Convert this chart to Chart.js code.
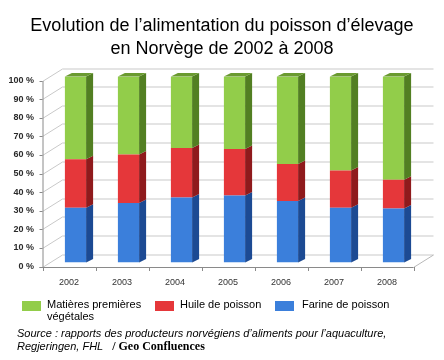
<!DOCTYPE html>
<html>
<head>
<meta charset="utf-8">
<script src="https://cdn.jsdelivr.net/npm/chart.js@4.4.1/dist/chart.umd.min.js"></script>
<style>
  html, body { margin: 0; padding: 0; background: #fff; }
  #wrap { position: relative; width: 444px; height: 360px; overflow: hidden; font-family: "Liberation Sans", Arial, sans-serif; }
  #c { position: absolute; left: 0; top: 0; }
  #title { position: absolute; left: 0; top: 14px; width: 444px; text-align: center; font-size: 18px; line-height: 23px; color: #000; }
  .lg { position: absolute; font-size: 11px; line-height: 12px; color: #000; }
  .box { position: absolute; width: 19px; height: 10px; }
  #src { position: absolute; left: 17px; top: 327px; font-size: 11px; line-height: 13px; font-style: italic; color: #000; white-space: nowrap; }
  #src b { font-family: "Liberation Serif", "Times New Roman", serif; font-style: normal; font-size: 12px; }
</style>
</head>
<body>
<div id="wrap">
  <canvas id="c" width="444" height="360"></canvas>
  <div id="title">Evolution de l’alimentation du poisson d’élevage<br>en Norvège de 2002 à 2008</div>
  <div class="box" style="left:22px;top:301px;background:#92cd4a"></div>
  <div class="lg" style="left:47px;top:298px">Matières premières<br>végétales</div>
  <div class="box" style="left:155px;top:301px;background:#e5373a"></div>
  <div class="lg" style="left:180px;top:298px">Huile de poisson</div>
  <div class="box" style="left:275px;top:301px;background:#3b7fdb"></div>
  <div class="lg" style="left:302px;top:298px">Farine de poisson</div>
  <div id="src">Source : rapports des producteurs norvégiens d’aliments pour l’aquaculture,<br>Regjeringen, FHL &nbsp; <b>/ Geo Confluences</b></div>
</div>
<script>
const years = ['2002', '2003', '2004', '2005', '2006', '2007', '2008'];
const farinePoisson = [29.5, 32, 35, 36, 33, 29.5, 29];
const huilePoisson = [26, 26, 26.5, 25, 20, 20, 15.5];
const matieresVegetales = [44.5, 42, 38.5, 39, 47, 50.5, 55.5];
const yTicks = [0, 10, 20, 30, 40, 50, 60, 70, 80, 90, 100];

const sideColors = ['#1c4a93', '#8f1a1c', '#527f22'];
const topColor = '#6a9a30';
const DX = 7, DY = 3.5;           // bar depth
const FRONT_DX = -6.5, FRONT_DY = 4;   // front plane offset from bar front
const BACK_DX = 13.5, BACK_DY = -8.5;  // back wall offset from bar front

const threeD = {
  id: 'threeD',
  beforeDatasetsDraw(chart) {
    const ctx = chart.ctx, a = chart.chartArea, ys = chart.scales.y;
    ctx.save();
    ctx.lineWidth = 1;
    yTicks.forEach(v => {
      const yb = Math.round(ys.getPixelForValue(v));
      ctx.strokeStyle = '#c9c9c9';
      ctx.beginPath();
      ctx.moveTo(a.left + FRONT_DX, yb + FRONT_DY + 0.5);
      ctx.lineTo(a.left + BACK_DX, yb + BACK_DY + 0.5);
      ctx.lineTo(a.right + BACK_DX, yb + BACK_DY + 0.5);
      ctx.stroke();
    });
    const y0 = Math.round(ys.getPixelForValue(0));
    ctx.strokeStyle = '#b8b8b8';
    ctx.beginPath();
    ctx.moveTo(a.right + FRONT_DX, y0 + FRONT_DY + 0.5);
    ctx.lineTo(a.right + BACK_DX, y0 + BACK_DY + 0.5);
    ctx.stroke();
    ctx.strokeStyle = '#8a8a8a';
    const yTop = Math.round(ys.getPixelForValue(100));
    ctx.beginPath();
    ctx.moveTo(a.left + FRONT_DX + 0.5, yTop + FRONT_DY);
    ctx.lineTo(a.left + FRONT_DX + 0.5, y0 + FRONT_DY + 1);
    ctx.moveTo(a.left + FRONT_DX - 3, y0 + FRONT_DY + 0.5);
    ctx.lineTo(a.right + FRONT_DX, y0 + FRONT_DY + 0.5);
    yTicks.forEach(v => {
      const yb = Math.round(ys.getPixelForValue(v));
      ctx.moveTo(a.left + FRONT_DX - 3, yb + FRONT_DY + 0.5);
      ctx.lineTo(a.left + FRONT_DX, yb + FRONT_DY + 0.5);
    });
    const step = (a.right - a.left) / years.length;
    for (let i = 0; i <= years.length; i++) {
      const x = Math.round(a.left + FRONT_DX + i * step) + 0.5;
      ctx.moveTo(x, y0 + FRONT_DY);
      ctx.lineTo(x, y0 + FRONT_DY + 4);
    }
    ctx.stroke();
    ctx.restore();
  },
  afterDatasetsDraw(chart) {
    const ctx = chart.ctx;
    ctx.save();
    const n = chart.data.datasets.length;
    chart.data.datasets.forEach((ds, di) => {
      const meta = chart.getDatasetMeta(di);
      meta.data.forEach(el => {
        const p = el.getProps(['x', 'y', 'base', 'width'], true);
        const l = p.x - p.width / 2, r = p.x + p.width / 2;
        const top = Math.min(p.y, p.base), bot = Math.max(p.y, p.base);
        ctx.fillStyle = sideColors[di];
        ctx.beginPath();
        ctx.moveTo(r, top);
        ctx.lineTo(r + DX, top - DY);
        ctx.lineTo(r + DX, bot - DY);
        ctx.lineTo(r, bot);
        ctx.closePath();
        ctx.fill();
        if (di === n - 1) {
          ctx.fillStyle = topColor;
          ctx.beginPath();
          ctx.moveTo(l, top);
          ctx.lineTo(l + DX, top - DY);
          ctx.lineTo(r + DX, top - DY);
          ctx.lineTo(r, top);
          ctx.closePath();
          ctx.fill();
        }
      });
    });
    ctx.restore();
  }
};

new Chart(document.getElementById('c'), {
  type: 'bar',
  data: {
    labels: years,
    datasets: [
      { label: 'Farine de poisson', data: farinePoisson, backgroundColor: '#3b7fdb' },
      { label: 'Huile de poisson', data: huilePoisson, backgroundColor: '#e5373a' },
      { label: 'Matières premières végétales', data: matieresVegetales, backgroundColor: '#92cd4a' }
    ]
  },
  options: {
    responsive: false,
    animation: false,
    events: [],
    layout: { padding: { top: 76.5, right: 24, bottom: 67.5, left: 0 } },
    plugins: { legend: { display: false }, title: { display: false }, tooltip: { enabled: false } },
    datasets: { bar: { categoryPercentage: 1, barPercentage: 0.4, borderWidth: 0 } },
    scales: {
      x: {
        stacked: true,
        grid: { display: false, drawTicks: false },
        border: { display: false },
        ticks: { font: { family: 'Liberation Sans', size: 9 }, color: '#333', padding: 15, labelOffset: FRONT_DX, maxRotation: 0 },
        afterFit(s) { s.height = 30; }
      },
      y: {
        stacked: true,
        min: 0, max: 100,
        afterBuildTicks(s) { s.ticks = yTicks.map(v => ({ value: v })); },
        grid: { display: false, drawTicks: false },
        border: { display: false },
        ticks: { font: { family: 'Liberation Sans', size: 9, weight: 'bold' }, color: '#2a2a2a', padding: 15, labelOffset: FRONT_DY, callback: v => v + ' %' },
        afterFit(s) { s.width = 49; }
      }
    }
  },
  plugins: [threeD]
});
</script>
</body>
</html>
